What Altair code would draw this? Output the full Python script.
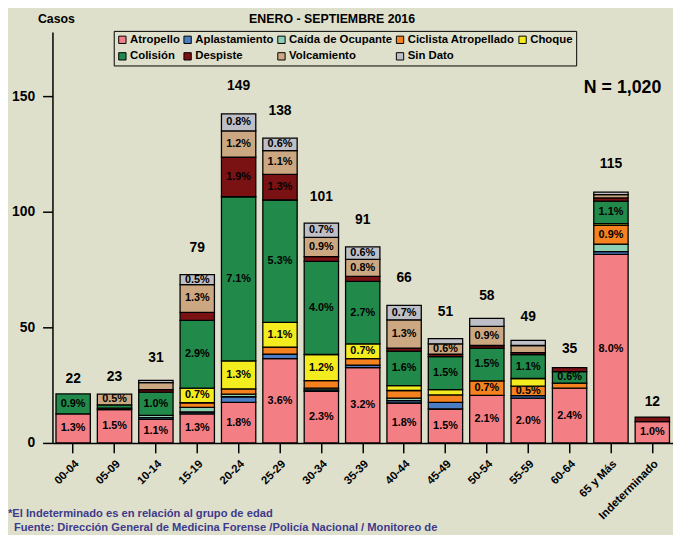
import altair as alt
import pandas as pd

categories = ["00-04", "05-09", "10-14", "15-19", "20-24", "25-29", "30-34", "35-39",
              "40-44", "45-49", "50-54", "55-59", "60-64", "65 y Más", "Indeterminado"]
types = ["Atropello", "Aplastamiento", "Caída de Ocupante", "Ciclista Atropellado", "Choque",
         "Colisión", "Despiste", "Volcamiento", "Sin Dato"]
colors = ["#F37F85", "#4A7DC4", "#8DCFB2", "#F5821F", "#F3EC1E",
          "#21894A", "#7A1214", "#CCA882", "#BEBFC6"]

atropello     = [12.6, 14.4, 10.2, 12.6, 17.6, 36.5, 22.3, 32.6, 17.3, 14.7, 20.6, 19.4, 23.7, 81.7, 9.2]
aplastamiento = [0, 0, 0.8, 0.8, 2.4, 2.0, 0.7, 1.1, 1.0, 2.9, 0, 1.1, 0, 1.1, 0]
caida         = [0, 0, 0.9, 2.0, 1.1, 0, 0.7, 0, 1.1, 0, 0, 0, 0, 3.3, 0]
ciclista      = [0, 0.7, 0, 2.0, 2.3, 3.0, 3.3, 2.8, 3.3, 3.2, 6.3, 4.1, 2.2, 8.1, 0]
choque        = [0, 0, 0, 6.3, 12.1, 10.7, 11.3, 6.4, 2.1, 2.3, 0, 3.3, 0, 0.8, 0]
colision      = [8.6, 1.4, 10.1, 29.4, 71.1, 53.0, 40.3, 27.1, 15.0, 14.3, 14.2, 10.3, 5.0, 9.7, 0]
despiste      = [0, 0, 1.1, 3.4, 17.2, 11.1, 2.1, 2.1, 1.3, 1.0, 1.1, 0.9, 1.7, 1.4, 2.0]
volcamiento   = [0, 4.6, 3.0, 12.1, 11.3, 10.3, 8.3, 7.4, 12.2, 4.5, 8.3, 3.1, 0, 1.4, 0]
sin_dato      = [0, 0, 1.0, 4.3, 7.4, 5.4, 6.2, 5.4, 6.3, 2.3, 3.4, 2.2, 0, 1.1, 0]

lab_atropello = ["1.3%", "1.5%", "1.1%", "1.3%", "1.8%", "3.6%", "2.3%", "3.2%", "1.8%", "1.5%", "2.1%", "2.0%", "2.4%", "8.0%", "1.0%"]
lab_aplast    = [""] * 15
lab_caida     = [""] * 15
lab_ciclista  = ["", "", "", "", "", "", "", "", "", "", "0.7%", "0.5%", "", "0.9%", ""]
lab_choque    = ["", "", "", "0.7%", "1.3%", "1.1%", "1.2%", "0.7%", "", "", "", "", "", "", ""]
lab_colision  = ["0.9%", "", "1.0%", "2.9%", "7.1%", "5.3%", "4.0%", "2.7%", "1.6%", "1.5%", "1.5%", "1.1%", "0.6%", "1.1%", ""]
lab_despiste  = ["", "", "", "", "1.9%", "1.3%", "", "", "", "", "", "", "", "", ""]
lab_volc      = ["", "0.5%", "", "1.3%", "1.2%", "1.1%", "0.9%", "0.8%", "1.3%", "0.6%", "0.9%", "", "", "", ""]
lab_sindato   = ["", "", "", "0.5%", "0.8%", "0.6%", "0.7%", "0.6%", "0.7%", "", "", "", "", "", ""]

totals = [22, 23, 31, 79, 149, 138, 101, 91, 66, 51, 58, 49, 35, 115, 12]

values = [atropello, aplastamiento, caida, ciclista, choque, colision, despiste, volcamiento, sin_dato]
labels = [lab_atropello, lab_aplast, lab_caida, lab_ciclista, lab_choque, lab_colision,
          lab_despiste, lab_volc, lab_sindato]

rows = []
for ti, t in enumerate(types):
    for ci, c in enumerate(categories):
        rows.append({"cat": c, "ci": ci, "tipo": t, "ord": ti,
                     "val": values[ti][ci], "lab": labels[ti][ci]})
df = pd.DataFrame(rows).sort_values(["ci", "ord"])
df["end"] = df.groupby("ci")["val"].cumsum()
df["mid"] = df["end"] - df["val"] / 2
df = df[df["val"] > 0]
df_lab = df[df["lab"] != ""]
df_tot = pd.DataFrame({"cat": categories, "total": totals})

SANS = "Liberation Sans"

xenc = alt.X("cat:N", sort=categories,
             scale=alt.Scale(paddingInner=0.17, paddingOuter=0.085),
             axis=alt.Axis(title=None, labelAngle=-45, labelFont=SANS, labelFontSize=11.5,
                           labelFontWeight="bold", labelColor="black", tickSize=10,
                           tickColor="black", tickWidth=1.5, domainColor="black",
                           domainWidth=1.5, labelPadding=5))
yscale = alt.Scale(domain=[0, 178], nice=False, zero=True)

bars = alt.Chart(df).mark_bar(stroke="black", strokeWidth=1.3).encode(
    x=xenc,
    y=alt.Y("val:Q", stack="zero", scale=yscale,
            axis=alt.Axis(title=None, values=[0, 50, 100, 150], grid=False,
                          labelFont=SANS, labelFontSize=14, labelFontWeight="bold",
                          labelColor="black", tickSize=10, tickColor="black", tickWidth=1.5,
                          domainColor="black", domainWidth=1.5, labelPadding=8)),
    color=alt.Color("tipo:N", scale=alt.Scale(domain=types, range=colors),
                    legend=alt.Legend(title=None, orient="none", legendX=62, legendY=-1,
                                      direction="horizontal",
                                      columns=5, symbolType="square", symbolSize=55,
                                      symbolStrokeColor="black", symbolStrokeWidth=1,
                                      labelFont=SANS, labelFontSize=11.5,
                                      labelFontWeight="bold", labelColor="black",
                                      rowPadding=4, columnPadding=2, labelOffset=2,
                                      strokeColor="black", padding=3)),
    order=alt.Order("ord:Q", sort="ascending"),
)

pct = alt.Chart(df_lab).mark_text(font=SANS, fontSize=11, fontWeight="bold",
                                  color="black", baseline="middle").encode(
    x=alt.X("cat:N", sort=categories),
    y=alt.Y("mid:Q", scale=yscale),
    text="lab:N",
)

tots = alt.Chart(df_tot).mark_text(font=SANS, fontSize=14, fontWeight="bold",
                                   color="black", baseline="middle", dy=-13).encode(
    x=alt.X("cat:N", sort=categories),
    y=alt.Y("total:Q", scale=yscale),
    text="total:Q",
)

ann = alt.Chart(pd.DataFrame({"t": ["N = 1,020"]})).mark_text(
    font=SANS, fontSize=18, fontWeight="bold", color="black", align="center", baseline="middle"
).encode(text="t:N", x=alt.value(577), y=alt.value(57))

title = alt.Chart(pd.DataFrame({"t": ["ENERO - SEPTIEMBRE 2016"]})).mark_text(
    font=SANS, fontSize=12.5, fontWeight="bold", color="black", align="center", baseline="middle"
).encode(text="t:N", x=alt.value(283), y=alt.value(-13))

casos = alt.Chart(pd.DataFrame({"t": ["Casos"]})).mark_text(
    font=SANS, fontSize=12.5, fontWeight="bold", color="black", align="center", baseline="middle"
).encode(text="t:N", x=alt.value(4), y=alt.value(-13))

foot1 = alt.Chart(pd.DataFrame({"t": ["*El Indeterminado es en relación al grupo de edad"]})).mark_text(
    font=SANS, fontSize=11.3, fontWeight="bold", color="#3D3A8C", align="left", baseline="middle"
).encode(text="t:N", x=alt.value(-45), y=alt.value(488))

foot2 = alt.Chart(pd.DataFrame({"t": ["Fuente: Dirección General de Medicina Forense /Policía Nacional / Monitoreo de"]})).mark_text(
    font=SANS, fontSize=11.3, fontWeight="bold", color="#3D3A8C", align="left", baseline="middle"
).encode(text="t:N", x=alt.value(-39), y=alt.value(502))

chart = alt.layer(bars, pct, tots, ann, title, casos, foot1, foot2).properties(
    width=628, height=416,
    padding={"left": 45, "top": 21, "right": 0, "bottom": 90},
    autosize=alt.AutoSizeParams(type="none"),
).configure(background="#DFE0CB").configure_view(stroke=None)

chart.save("out.html", embed_options={"renderer": "svg", "actions": False})
